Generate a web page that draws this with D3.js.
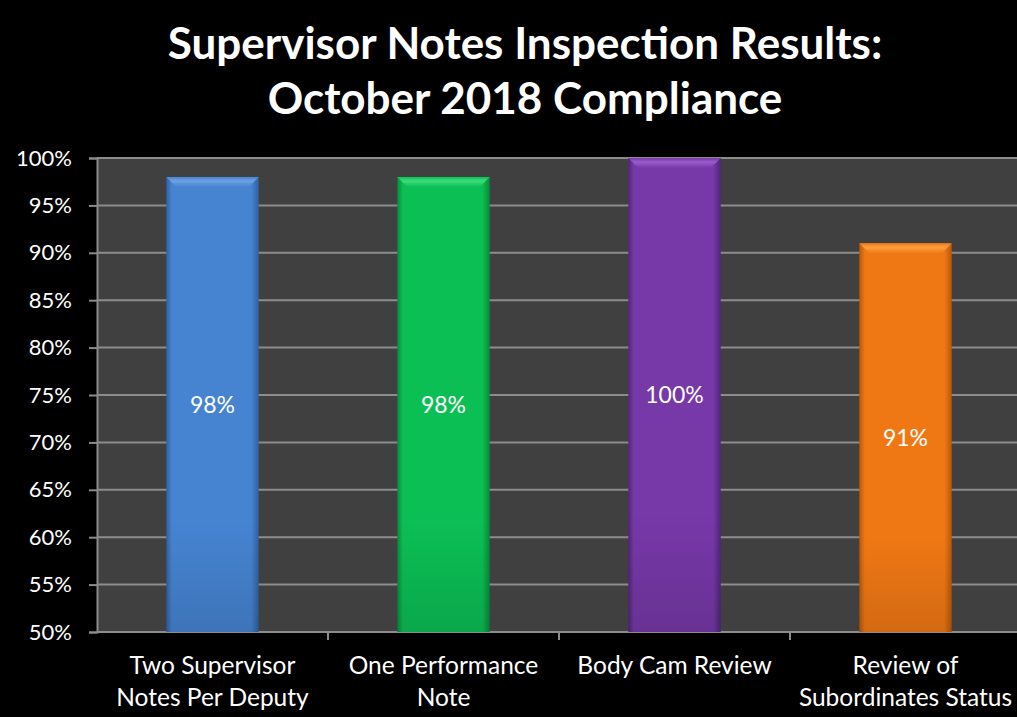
<!DOCTYPE html>
<html>
<head>
<meta charset="utf-8">
<script src="https://cdn.jsdelivr.net/npm/d3@7"></script>
<style>
  html, body { margin: 0; padding: 0; background: #000; overflow: hidden; }
  text { font-family: Lato, "Open Sans", sans-serif; }
</style>
</head>
<body>
<div id="chart"></div>
<script>
// chart data
var categories = [
  ['Two Supervisor', 'Notes Per Deputy'],
  ['One Performance', 'Note'],
  ['Body Cam Review'],
  ['Review of', 'Subordinates Status']
];
var values = [0.98, 0.98, 1.00, 0.91];
var valueLabels = ['98%', '98%', '100%', '91%'];
var yTicks = [0.50, 0.55, 0.60, 0.65, 0.70, 0.75, 0.80, 0.85, 0.90, 0.95, 1.00];
var titleLines = ['Supervisor Notes Inspection Results:', 'October 2018 Compliance'];
var barColors = [
  { main: '#4684d2', light: '#6ea2e4', dark: '#2f62a0' },
  { main: '#0bbf55', light: '#3fdc7d', dark: '#078a3c' },
  { main: '#7738a8', light: '#9a5ccc', dark: '#53247a' },
  { main: '#f07814', light: '#ffa040', dark: '#b85808' }
];

var svgWidth = 1017;
var svgHeight = 717;

var margin = { top: 158, right: -4, bottom: 85, left: 97 };
var width = svgWidth - margin.left - margin.right;
var height = svgHeight - margin.top - margin.bottom;

var svg = d3.select('#chart').append('svg')
  .attr('width', svgWidth)
  .attr('height', svgHeight);

svg.append('rect')
  .attr('width', svgWidth)
  .attr('height', svgHeight)
  .attr('fill', '#000');

// gradients for the bevelled bars
var defs = svg.append('defs');
barColors.forEach(function (c, i) {
  var g = defs.append('linearGradient')
    .attr('id', 'side' + i)
    .attr('x1', 0).attr('x2', 1).attr('y1', 0).attr('y2', 0);
  g.append('stop').attr('offset', '0%').attr('stop-color', c.dark);
  g.append('stop').attr('offset', '6%').attr('stop-color', c.main);
  g.append('stop').attr('offset', '92%').attr('stop-color', c.main);
  g.append('stop').attr('offset', '100%').attr('stop-color', c.dark);

  var v = defs.append('linearGradient')
    .attr('id', 'vert' + i)
    .attr('x1', 0).attr('x2', 0).attr('y1', 0).attr('y2', 1);
  v.append('stop').attr('offset', '0%').attr('stop-color', '#000').attr('stop-opacity', 0);
  v.append('stop').attr('offset', '75%').attr('stop-color', '#000').attr('stop-opacity', 0);
  v.append('stop').attr('offset', '100%').attr('stop-color', '#000').attr('stop-opacity', 0.12);

  var t = defs.append('linearGradient')
    .attr('id', 'top' + i)
    .attr('x1', 0).attr('x2', 0).attr('y1', 0).attr('y2', 1);
  t.append('stop').attr('offset', '0%').attr('stop-color', c.main);
  t.append('stop').attr('offset', '40%').attr('stop-color', c.light);
  t.append('stop').attr('offset', '100%').attr('stop-color', c.main);
});

var chartGroup = svg.append('g')
  .attr('transform', `translate(${margin.left}, ${margin.top})`);

var xScale = d3.scaleBand()
  .domain(d3.range(categories.length))
  .range([0, width])
  .paddingInner(0.6)
  .paddingOuter(0.3);

var bandScale = d3.scaleBand()
  .domain(d3.range(categories.length))
  .range([0, width]);

var yScale = d3.scaleLinear()
  .domain([0.5, 1.0])
  .range([height, 0]);

// plot background
chartGroup.append('rect')
  .attr('width', width)
  .attr('height', height)
  .attr('fill', '#404040');

// gridlines
chartGroup.append('g')
  .selectAll('line')
  .data(yTicks)
  .enter()
  .append('line')
  .attr('x1', 0)
  .attr('x2', width)
  .attr('y1', d => yScale(d))
  .attr('y2', d => yScale(d))
  .attr('stroke', '#8c8c8c')
  .attr('stroke-width', 2);

// y axis
var leftAxis = d3.axisLeft(yScale)
  .tickValues(yTicks)
  .tickFormat(d3.format('.0%'))
  .tickSize(8)
  .tickPadding(17);

var yAxis = chartGroup.append('g').call(leftAxis);
yAxis.select('.domain').attr('stroke', '#8c8c8c').attr('stroke-width', 2);
yAxis.selectAll('.tick line').attr('stroke', '#8c8c8c').attr('stroke-width', 2);
yAxis.selectAll('.tick text')
  .attr('fill', '#fff')
  .attr('font-size', '22px')
  .style('font-family', 'Lato, "Open Sans", sans-serif');

// x axis tick marks between categories
chartGroup.append('g')
  .selectAll('line')
  .data(d3.range(1, categories.length + 1))
  .enter()
  .append('line')
  .attr('x1', d => bandScale(d) === undefined ? width : bandScale(d))
  .attr('x2', d => bandScale(d) === undefined ? width : bandScale(d))
  .attr('y1', height)
  .attr('y2', height + 8)
  .attr('stroke', '#8c8c8c')
  .attr('stroke-width', 2);

// bars
var bars = chartGroup.selectAll('.bar')
  .data(values)
  .enter()
  .append('g')
  .classed('bar', true);

bars.append('rect')
  .attr('x', (d, i) => xScale(i))
  .attr('y', d => yScale(d))
  .attr('width', xScale.bandwidth())
  .attr('height', d => height - yScale(d))
  .attr('fill', (d, i) => `url(#side${i})`);

bars.append('rect')
  .attr('x', (d, i) => xScale(i))
  .attr('y', d => yScale(d))
  .attr('width', xScale.bandwidth())
  .attr('height', d => height - yScale(d))
  .attr('fill', (d, i) => `url(#vert${i})`);

// top bevel
bars.append('path')
  .attr('d', function (d, i) {
    var x0 = xScale(i), x1 = xScale(i) + xScale.bandwidth(), y0 = yScale(d), b = 10;
    return `M${x0},${y0} L${x1},${y0} L${x1 - b},${y0 + b} L${x0 + b},${y0 + b} Z`;
  })
  .attr('fill', (d, i) => `url(#top${i})`);

// value labels
bars.append('text')
  .attr('x', (d, i) => xScale(i) + xScale.bandwidth() / 2)
  .attr('y', d => (yScale(d) + height) / 2)
  .attr('dy', '0.35em')
  .attr('text-anchor', 'middle')
  .attr('fill', '#fff')
  .attr('font-size', '23px')
  .text((d, i) => valueLabels[i]);

// category labels
var catGroup = chartGroup.append('g')
  .attr('transform', `translate(0, ${height})`);

catGroup.selectAll('text')
  .data(categories)
  .enter()
  .append('text')
  .attr('x', (d, i) => bandScale(i) + bandScale.bandwidth() / 2)
  .attr('y', 42)
  .attr('text-anchor', 'middle')
  .attr('fill', '#fff')
  .attr('font-size', '24.5px')
  .each(function (lines) {
    var t = d3.select(this);
    lines.forEach(function (line, k) {
      t.append('tspan')
        .attr('x', t.attr('x'))
        .attr('dy', k === 0 ? 0 : 32)
        .text(line);
    });
  });

// title
svg.append('g')
  .selectAll('text')
  .data(titleLines)
  .enter()
  .append('text')
  .attr('x', 525)
  .attr('y', (d, i) => 59 + i * 55)
  .attr('text-anchor', 'middle')
  .attr('fill', '#fff')
  .attr('font-size', '44px')
  .attr('font-weight', 'bold')
  .text(d => d);
</script>
</body>
</html>
